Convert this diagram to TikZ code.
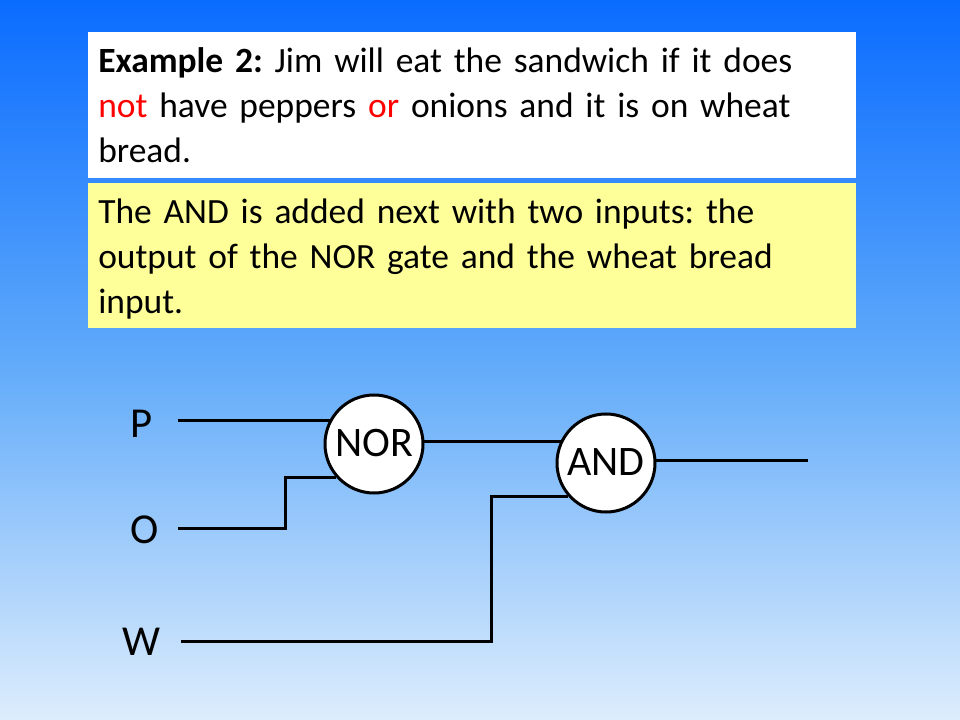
\documentclass[tikz,border=0pt]{standalone}
\usepackage{fontspec}
\setmainfont{Carlito}[WordSpace=0.85]
\definecolor{skytop}{HTML}{0A6CFF}
\definecolor{skymid}{HTML}{60AAFA}
\definecolor{skylow}{HTML}{DDEDFC}
\definecolor{notepad}{HTML}{FFFF99}
\frenchspacing
\tikzset{
	textbox/.style={anchor=north west, inner xsep=7.5pt, inner ysep=0pt, text width=561pt, align=left, font=\fontsize{26.6}{33.75}\selectfont},
	gate/.style={draw, circle, fill=white, line width=2.25pt, minimum size=73.5pt, inner sep=0pt, font=\fontsize{31.5}{38}\selectfont},
	wire/.style={line width=2.25pt},
	inlabel/.style={font=\fontsize{32}{38}\selectfont, inner sep=0pt}
}
\begin{document}
\begin{tikzpicture}[x=.75pt, y=-.75pt]
\useasboundingbox (0,0) rectangle (960,720);
\shade[top color=skytop, bottom color=skymid] (0,0) rectangle (960,360);
\shade[top color=skymid, bottom color=skylow] (0,360) rectangle (960,720);

\node[textbox, fill=white, minimum height=109.5pt] (question) at (88,32) {\textbf{Example 2:} Jim will eat the sandwich if it does\\
\textcolor{red}{not} have peppers \textcolor{red}{or} onions and it is on wheat\\
bread.};
\node[textbox, fill=notepad, minimum height=108.75pt] (note) at (88,183) {\rule{0pt}{24pt}The AND is added next with two inputs: the\\
output of the NOR gate and the wheat bread\\
input.};

\node[gate] (NOR) at (374,444) {\raisebox{1.5pt}{NOR}};
\node[gate] (AND) at (606,463) {\raisebox{1pt}{AND}};

\node[inlabel] (P) at (141.5,424) {P};
\node[inlabel] (O) at (144.5,530) {O};
\node[inlabel] (W) at (141,642) {W};

\coordinate (Pin) at (178,420);
\coordinate (Oin) at (178,528);
\coordinate (Win) at (181,641);
\coordinate (Obend) at (285,528);
\coordinate (Wbend) at (491,641);
\coordinate (Out) at (808,460);

\draw[wire] (Pin) -- (Pin -| NOR.151);
\draw[wire] (Oin) -- (Obend) |- (NOR.222);
\draw[wire] (Win) -- (Wbend) |- (AND.222);
\draw[wire] (NOR.3.5) -- (NOR.3.5 -| AND.153);
\draw[wire] (AND.3.5) -- (AND.3.5 -| Out);
\end{tikzpicture}
\end{document}
